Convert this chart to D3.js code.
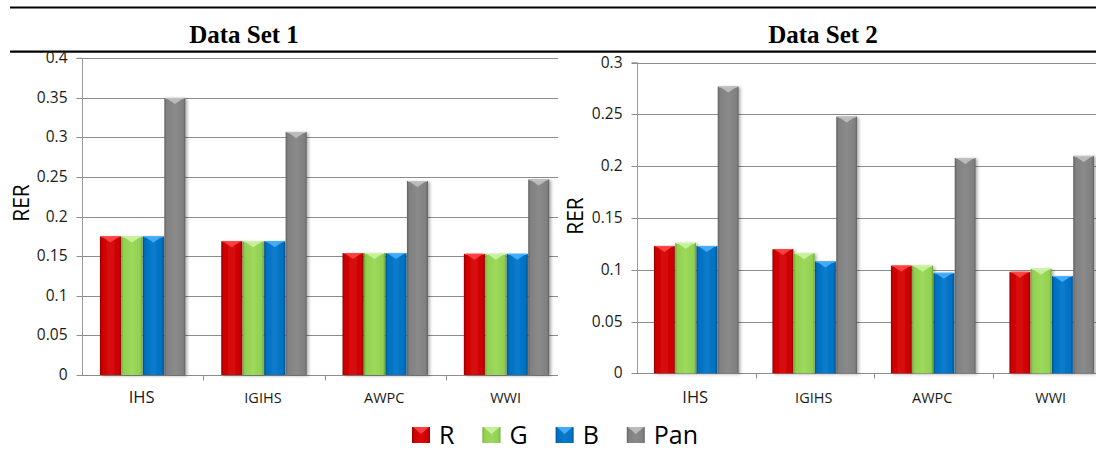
<!DOCTYPE html>
<html>
<head>
<meta charset="utf-8">
<script src="https://cdn.jsdelivr.net/npm/d3@7/dist/d3.min.js"></script>
<style>
  html, body { margin: 0; padding: 0; background: #fff; }
  svg { display: block; }
</style>
</head>
<body>
<svg id="chart" width="1096" height="451"></svg>
<script>
// Fusion methods compared on each data set
const methods = ["IHS", "IGIHS", "AWPC", "WWI"];
const bands = ["R", "G", "B", "Pan"];

// RER per band, Data Set 1
const set1R   = [0.175, 0.169, 0.154, 0.153];
const set1G   = [0.175, 0.169, 0.154, 0.153];
const set1B   = [0.175, 0.169, 0.154, 0.153];
const set1Pan = [0.350, 0.307, 0.245, 0.247];

// RER per band, Data Set 2
const set2R   = [0.123, 0.120, 0.104, 0.098];
const set2G   = [0.126, 0.116, 0.104, 0.101];
const set2B   = [0.123, 0.108, 0.097, 0.094];
const set2Pan = [0.277, 0.248, 0.208, 0.210];

// y-axis tick labels
const ticks1 = [0, 0.05, 0.1, 0.15, 0.2, 0.25, 0.3, 0.35, 0.4];
const ticks2 = [0, 0.05, 0.1, 0.15, 0.2, 0.25, 0.3];

const titles = ["Data Set 1", "Data Set 2"];
const yLabel = "RER";

// Band fill palettes: face, dark edge, light bevel
const palette = {
  R:   { face: "#CC0000", edge: "#8E0000", mid: "#D80C0C", bevel: "#FF4A4A" },
  G:   { face: "#92D050", edge: "#6AA632", mid: "#9CD95C", bevel: "#CFF5A6" },
  B:   { face: "#0070C0", edge: "#004C88", mid: "#0A7BCC", bevel: "#4DB3FF" },
  Pan: { face: "#808080", edge: "#5E5E5E", mid: "#8A8A8A", bevel: "#C4C4C4" }
};

const svg = d3.select("#chart");
const defs = svg.append("defs");

// horizontal shading so each bar reads as a bevelled column
bands.forEach(b => {
  const p = palette[b];
  const g = defs.append("linearGradient").attr("id", "grad-" + b)
    .attr("x1", "0%").attr("x2", "100%").attr("y1", "0%").attr("y2", "0%");
  g.append("stop").attr("offset", "0%").attr("stop-color", p.edge);
  g.append("stop").attr("offset", "10%").attr("stop-color", p.face);
  g.append("stop").attr("offset", "50%").attr("stop-color", p.mid);
  g.append("stop").attr("offset", "90%").attr("stop-color", p.face);
  g.append("stop").attr("offset", "100%").attr("stop-color", p.edge);
});

const shadow = defs.append("filter").attr("id", "barShadow")
  .attr("x", "-30%").attr("y", "-5%").attr("width", "160%").attr("height", "110%");
shadow.append("feDropShadow").attr("dx", 2).attr("dy", 1)
  .attr("stdDeviation", 1.5).attr("flood-color", "#000").attr("flood-opacity", 0.3);

// Header rules
svg.append("line").attr("x1", 10).attr("x2", 1096).attr("y1", 7.5).attr("y2", 7.5)
  .attr("stroke", "#000").attr("stroke-width", 2.2);
svg.append("line").attr("x1", 10).attr("x2", 1096).attr("y1", 51.7).attr("y2", 51.7)
  .attr("stroke", "#000").attr("stroke-width", 2.2);

const panels = [
  {
    title: titles[0], titleX: 244,
    series: { R: set1R, G: set1G, B: set1B, Pan: set1Pan },
    ticks: ticks1, yMax: 0.4,
    left: 82, catW: 121.3, clipRight: 558, top: 58.3, bottom: 375,
    pad: 17.5, labelX: 21, labelY: 203
  },
  {
    title: titles[1], titleX: 823,
    series: { R: set2R, G: set2G, B: set2B, Pan: set2Pan },
    ticks: ticks2, yMax: 0.3,
    left: 637, catW: 118.5, clipRight: 1096, top: 62.7, bottom: 373.3,
    pad: 16.5, labelX: 575, labelY: 216
  }
];

const fmt = d => d3.format("")(+d.toFixed(2));
const catFont = d => d === "IHS" ? 16.5 : 14.5;

panels.forEach(P => {
  const g = svg.append("g");

  g.append("text").attr("x", P.titleX).attr("y", 43)
    .attr("text-anchor", "middle")
    .attr("font-family", "'Liberation Serif', 'Times New Roman', serif")
    .attr("font-weight", "bold").attr("font-size", 25).attr("fill", "#000")
    .text(P.title);

  const x = d3.scaleBand().domain(methods)
    .range([P.left, P.left + methods.length * P.catW]).paddingInner(0).paddingOuter(0);
  const xb = d3.scaleBand().domain(bands).range([P.pad, P.catW - P.pad]).padding(0.02);
  const y = d3.scaleLinear().domain([0, P.yMax]).range([P.bottom, P.top]);

  // gridlines
  g.append("g").selectAll("line").data(P.ticks.filter(t => t > 0)).join("line")
    .attr("x1", P.left).attr("x2", P.clipRight)
    .attr("y1", d => Math.round(y(d)) + 0.5).attr("y2", d => Math.round(y(d)) + 0.5)
    .attr("stroke", "#8c8c8c").attr("stroke-width", 1);

  // y axis
  const yAxis = d3.axisLeft(y).tickValues(P.ticks).tickFormat(fmt).tickSize(6).tickPadding(9);
  const ya = g.append("g").attr("transform", `translate(${Math.round(P.left) + 0.5},0)`).call(yAxis);
  ya.select(".domain").attr("stroke", "#9a9a9a").attr("d", `M-6,${P.top}H0V${P.bottom}`);
  ya.selectAll(".tick line").attr("stroke", "#8c8c8c");
  ya.selectAll(".tick text")
    .attr("font-family", "'Open Sans', sans-serif").attr("font-size", 15.5).attr("fill", "#1a1a1a");
  ya.selectAll(".tick").attr("transform", d => `translate(0,${Math.round(y(d)) + 0.5})`);

  // x axis baseline and category ticks
  const bx = Math.round(P.bottom) + 0.5;
  g.append("line").attr("x1", P.left).attr("x2", P.clipRight).attr("y1", bx).attr("y2", bx)
    .attr("stroke", "#8c8c8c");
  g.append("g").selectAll("line").data(methods.slice(1)).join("line")
    .attr("x1", d => Math.round(x(d)) + 0.5).attr("x2", d => Math.round(x(d)) + 0.5)
    .attr("y1", bx).attr("y2", bx + 5).attr("stroke", "#8c8c8c");

  g.append("g").selectAll("text").data(methods).join("text")
    .attr("x", d => x(d) + x.bandwidth() / 2 - 1).attr("y", 403)
    .attr("text-anchor", "middle")
    .attr("font-family", "'Open Sans', sans-serif").attr("font-size", catFont)
    .attr("fill", "#1a1a1a").text(d => d);

  // bars
  const clipId = "clip-" + P.left;
  defs.append("clipPath").attr("id", clipId).append("rect")
    .attr("x", P.left).attr("y", 0).attr("width", P.clipRight - P.left).attr("height", 451);

  const barsG = g.append("g").attr("clip-path", `url(#${clipId})`);
  const rows = [];
  methods.forEach((m, i) => bands.forEach(b => rows.push({ m, b, v: P.series[b][i] })));

  const bar = barsG.selectAll("g.bar").data(rows).join("g").attr("class", "bar")
    .attr("filter", "url(#barShadow)");
  bar.append("rect")
    .attr("x", d => x(d.m) + xb(d.b)).attr("width", xb.bandwidth())
    .attr("y", d => y(d.v)).attr("height", d => y(0) - y(d.v))
    .attr("fill", d => `url(#grad-${d.b})`);
  // bevelled top cap
  bar.append("path")
    .attr("d", d => {
      const x0 = x(d.m) + xb(d.b), x1 = x0 + xb.bandwidth(), yt = y(d.v);
      const xc = (x0 + x1) / 2;
      return `M${x0 + 1.5},${yt}L${x1 - 1.5},${yt}L${xc},${yt + 6}Z`;
    })
    .attr("fill", d => palette[d.b].bevel).attr("opacity", 0.85);
  bar.append("line")
    .attr("x1", d => x(d.m) + xb(d.b) + 1).attr("x2", d => x(d.m) + xb(d.b) + xb.bandwidth() - 1)
    .attr("y1", d => y(d.v) + 0.5).attr("y2", d => y(d.v) + 0.5)
    .attr("stroke", d => palette[d.b].bevel).attr("stroke-width", 1);

  // y-axis title
  g.append("text")
    .attr("transform", `translate(${P.labelX + 7.5},${P.labelY}) rotate(-90)`)
    .attr("text-anchor", "middle")
    .attr("font-family", "'Open Sans', sans-serif").attr("font-size", 21).attr("fill", "#000")
    .text(yLabel);
});

// Legend
const legend = svg.append("g").attr("transform", "translate(412,0)");
let lx = 0;
bands.forEach(b => {
  const item = legend.append("g").attr("transform", `translate(${lx},0)`);
  item.append("rect").attr("x", 0).attr("y", 427).attr("width", 18).attr("height", 16)
    .attr("fill", `url(#grad-${b})`);
  item.append("path").attr("d", "M1,427L17,427L9,434Z").attr("fill", palette[b].bevel).attr("opacity", 0.85);
  const t = item.append("text").attr("x", 27).attr("y", 443.5)
    .attr("font-family", "'Open Sans', sans-serif").attr("font-size", 25).attr("fill", "#000")
    .text(b);
  lx += 27 + t.node().getComputedTextLength() + 28;
});
</script>
</body>
</html>
